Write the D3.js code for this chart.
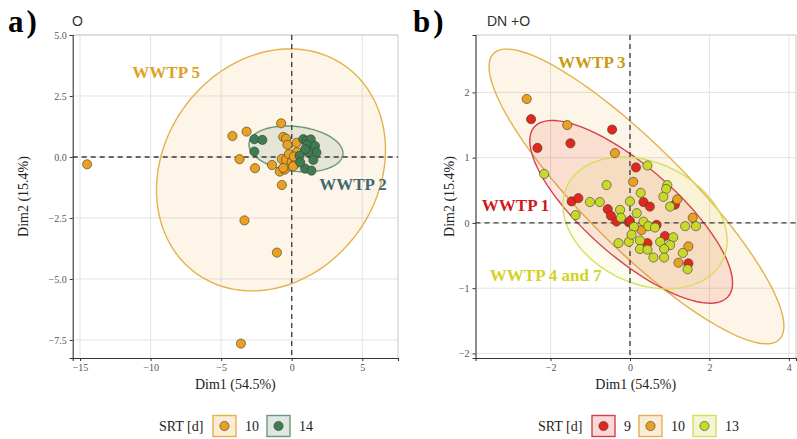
<!DOCTYPE html>
<html>
<head>
<meta charset="utf-8">
<script src="https://cdn.jsdelivr.net/npm/d3@7"></script>
<style>
  body { margin: 0; background: #fff; }
  text { font-family: "Liberation Serif", "Times New Roman", serif; }
</style>
</head>
<body>
<script>
var w = 797,
    h = 439;

// panel a) O : individuals by SRT
var aSrt10 = [
  [-14.5,-0.30],[-4.2,0.86],[-3.2,1.04],[-3.7,-0.09],[-2.6,-0.46],[-3.35,-2.6],
  [-1.05,-3.92],[-3.6,-7.65],[-1.4,-0.33],[-0.7,-1.15],[-0.85,-0.6],[-0.5,-0.52],
  [-0.75,1.38],[-0.6,0.82],[-0.4,0.75],[-0.3,0.5],[0.35,0.58],[0.35,0.2],
  [-0.7,-0.08],[-0.4,-0.12],[0.0,-0.2],[0.25,-0.28],[0.1,-0.38],[-0.6,-0.45],
  [-0.2,0.12],[0.15,0.02]
];
var aSrt14 = [
  [-2.65,0.73],[-2.08,0.7],[-2.65,0.22],[0.82,0.73],[1.06,0.67],[1.35,0.72],
  [1.1,0.49],[1.65,0.45],[1.75,0.18],[1.15,0.2],[0.95,0.32],[1.53,-0.12],
  [0.95,-0.48],[1.4,-0.56],[0.55,0.05],[0.6,-0.22]
];

// panel b) DN +O
var bSrt9 = [
  [-2.49,1.59],[-0.45,1.43],[-2.33,1.15],[-1.5,1.22],[0.15,0.85],[-1.47,0.33],
  [-1.3,0.38],[-0.56,0.21],[-0.48,0.11],[-0.03,0.01],[0.34,0.32],[0.5,0.25],
  [1.13,0.28],[0.0,0.03],[0.67,-0.03],[0.44,-0.31],[0.88,-0.2],[1.47,-0.62],
  [-0.34,0.02]
];
var bSrt10 = [
  [-2.6,1.9],[-1.58,1.5],[-0.38,1.07],[0.08,0.63],[1.19,0.36],[1.58,0.08],
  [0.29,-0.11],[1.47,-0.36],[1.22,-0.61]
];
var bSrt13 = [
  [-2.16,0.75],[-0.59,0.58],[0.44,0.88],[0.94,0.58],[0.91,0.52],[0.27,0.46],
  [0.84,0.40],[1.01,0.25],[-1.37,0.12],[-1.01,0.32],[-0.76,0.32],[-0.25,0.2],
  [-0.23,0.08],[0,0.33],[0.17,0.15],[0.10,-0.06],[0.34,0.02],[0.46,-0.05],
  [0.63,-0.07],[1.39,-0.05],[1.66,-0.05],[-0.29,-0.31],[-0.03,-0.29],[0.25,-0.27],
  [0.04,-0.18],[0.76,-0.29],[1.09,-0.22],[1.01,-0.34],[0.86,-0.40],[0.25,-0.40],
  [0.44,-0.41],[0.59,-0.53],[0.86,-0.53],[1.33,-0.46],[1.45,-0.71]
];

// confidence ellipses: centre, two conjugate half-axes (data units)
var aEllipse10 = {c: [-1.47,-0.53], u: [8.0,0], v: [1.35,4.96]};
var aEllipse14 = {c: [0.30,0.33], u: [3.27,0], v: [-0.64,0.94]};
var bEllipse10 = {c: [0.164,0.406], u: [3.60,-2.19], v: [0.907,0.552]};
var bEllipse9  = {c: [0.03,0.17], u: [2.44,-1.30], v: [0.75,0.52]};
var bEllipse13 = {c: [0.38,0.0], u: [1.96,-0.566], v: [0.655,0.837]};

var aXTicks = [-15,-10,-5,0,5],
    aYTicks = [5,2.5,0,-2.5,-5,-7.5],
    bXTicks = [-2,0,2,4],
    bYTicks = [2,1,0,-1,-2];

var srtLevelsA = ["10","14"],
    srtLevelsB = ["9","10","13"];

var pointFill = {"9":"#e2271f","10":"#eaa020","13":"#c9d92b","14":"#3e7c52"};
var lineCol   = {"9":"#d83f4b","10":"#e3b24e","13":"#d4df5c","14":"#6b987b"};
var keyFill   = {"9":"#f7d9d8","10":"#fbecd6","13":"#f3f6d6","14":"#dfe8e0"};
var ellAlpha  = {"9":0.11,"10":0.11,"13":0.08,"14":0.13};

var svg = d3.select("body").append("svg").attr("width", w).attr("height", h);

function drawPanel(cfg) {
  var x = d3.scaleLinear().domain(cfg.xDom).range([cfg.left, cfg.right]);
  var y = d3.scaleLinear().domain(cfg.yDom).range([cfg.bottom, cfg.top]);
  var g = svg.append("g");

  g.append("clipPath").attr("id", cfg.id + "clip")
    .append("rect").attr("x", cfg.left).attr("y", cfg.top)
    .attr("width", cfg.right - cfg.left).attr("height", cfg.bottom - cfg.top);

  // grid
  g.selectAll(".gx").data(cfg.xTicks).enter().append("line")
    .attr("x1", function(d) { return x(d); }).attr("x2", function(d) { return x(d); })
    .attr("y1", cfg.top).attr("y2", cfg.bottom)
    .attr("stroke", "#e2e2e2").attr("stroke-width", 1);
  g.selectAll(".gy").data(cfg.yTicks).enter().append("line")
    .attr("y1", function(d) { return y(d); }).attr("y2", function(d) { return y(d); })
    .attr("x1", cfg.left).attr("x2", cfg.right)
    .attr("stroke", "#e2e2e2").attr("stroke-width", 1);
  // light border top/right
  g.append("path")
    .attr("d", "M" + cfg.left + "," + cfg.top + "H" + cfg.right + "V" + cfg.bottom)
    .attr("fill", "none").attr("stroke", "#c8c8c8").attr("stroke-width", 1);

  // ellipses
  var ts = d3.range(0, 121).map(function(i) { return i / 120 * 2 * Math.PI; });
  var ell = g.append("g").attr("clip-path", "url(#" + cfg.id + "clip)");
  cfg.ellipses.forEach(function(e) {
    var pts = ts.map(function(t) {
      return [x(e.c[0] + e.u[0]*Math.cos(t) + e.v[0]*Math.sin(t)),
              y(e.c[1] + e.u[1]*Math.cos(t) + e.v[1]*Math.sin(t))];
    });
    ell.append("path")
      .attr("d", d3.line().curve(d3.curveLinearClosed)(pts))
      .attr("fill", pointFill[e.level]).attr("fill-opacity", ellAlpha[e.level])
      .attr("stroke", lineCol[e.level]).attr("stroke-width", 1.4);
  });

  // zero lines
  g.append("line").attr("x1", cfg.left).attr("x2", cfg.right)
    .attr("y1", y(0)).attr("y2", y(0))
    .attr("stroke", "#3a3a3a").attr("stroke-width", 1.3).attr("stroke-dasharray", "5,4");
  g.append("line").attr("y1", cfg.top).attr("y2", cfg.bottom)
    .attr("x1", x(0)).attr("x2", x(0))
    .attr("stroke", "#3a3a3a").attr("stroke-width", 1.3).attr("stroke-dasharray", "5,4");

  // points
  cfg.groups.forEach(function(gr) {
    g.append("g").selectAll("circle").data(gr.data).enter().append("circle")
      .attr("cx", function(d) { return x(d[0]); })
      .attr("cy", function(d) { return y(d[1]); })
      .attr("r", 4.6)
      .attr("fill", pointFill[gr.level])
      .attr("stroke", "#3b3b2b").attr("stroke-width", 0.6);
  });

  // group labels
  g.selectAll(".lab").data(cfg.labels).enter().append("text")
    .attr("x", function(d) { return x(d.x); })
    .attr("y", function(d) { return y(d.y); })
    .attr("dy", "0.35em")
    .attr("text-anchor", "middle")
    .attr("font-size", 17).attr("font-weight", "bold")
    .attr("fill", function(d) { return d.color; })
    .text(function(d) { return d.text; });

  // axes
  var ax = g.append("g").attr("transform", "translate(0," + cfg.bottom + ")")
    .call(d3.axisBottom(x).tickValues(cfg.xTicks).tickSize(3).tickFormat(cfg.xFmt));
  var ay = g.append("g").attr("transform", "translate(" + cfg.left + ",0)")
    .call(d3.axisLeft(y).tickValues(cfg.yTicks).tickSize(3).tickFormat(cfg.yFmt));
  [ax, ay].forEach(function(a) {
    a.select(".domain").attr("stroke", "#333").attr("stroke-width", 1.1);
    a.selectAll(".tick line").attr("stroke", "#333");
    a.selectAll(".tick text").attr("fill", "#555").attr("font-size", 10)
      .style("font-family", "'Liberation Serif', serif");
  });
  ay.selectAll(".tick text").attr("x", -6);

  // axis titles
  g.append("text").attr("x", (cfg.left + cfg.right) / 2).attr("y", cfg.bottom + 31)
    .attr("text-anchor", "middle").attr("font-size", 14).attr("fill", "#222")
    .text("Dim1 (54.5%)");
  g.append("text")
    .attr("transform", "translate(" + cfg.yTitleX + "," + ((cfg.top + cfg.bottom) / 2) + ") rotate(-90)")
    .attr("text-anchor", "middle").attr("font-size", 14).attr("fill", "#222")
    .text("Dim2 (15.4%)");

  // panel tag and title
  g.append("text").attr("x", cfg.tagX).attr("y", 32)
    .attr("font-size", 31).attr("font-weight", "bold").attr("letter-spacing", 3)
    .attr("fill", "#000").text(cfg.tag);
  g.append("text").attr("x", cfg.titleX).attr("y", 26)
    .attr("font-size", 14).attr("fill", "#333")
    .style("font-family", "'Liberation Sans', sans-serif")
    .text(cfg.title);

  // legend
  var lg = g.append("g").attr("transform", "translate(" + cfg.legendX + ",426)");
  lg.append("text").attr("x", 0).attr("y", 0).attr("dy", "0.35em")
    .attr("font-size", 14).attr("fill", "#222").text("SRT [d]");
  var cx = 54;
  cfg.levels.forEach(function(l) {
    lg.append("rect").attr("x", cx).attr("y", -10.5).attr("width", 23).attr("height", 21)
      .attr("fill", keyFill[l]).attr("stroke", lineCol[l]).attr("stroke-width", 1.4);
    lg.append("circle").attr("cx", cx + 11.5).attr("cy", 0).attr("r", 4.6)
      .attr("fill", pointFill[l]).attr("stroke", "#3b3b2b").attr("stroke-width", 0.6);
    lg.append("text").attr("x", cx + 32).attr("y", 0).attr("dy", "0.35em")
      .attr("font-size", 14).attr("fill", "#222").text(l);
    cx += 32 + l.length * 7 + 8;
  });
}

drawPanel({
  id: "a", tag: "a)", tagX: 8, title: "O", titleX: 72,
  left: 72.7, right: 398, top: 35, bottom: 358,
  xDom: [-15.52, 7.53], yDom: [-8.24, 5.0],
  xTicks: aXTicks, yTicks: aYTicks,
  xFmt: d3.format("d"), yFmt: d3.format(".1f"),
  yTitleX: 28,
  ellipses: [
    Object.assign({level: "10"}, aEllipse10),
    Object.assign({level: "14"}, aEllipse14)
  ],
  groups: [{level: "10", data: aSrt10}, {level: "14", data: aSrt14}],
  labels: [
    {text: "WWTP 5", x: -8.9, y: 3.48, color: "#e0a11f"},
    {text: "WWTP 2", x: 4.34, y: -1.11, color: "#3f6673"}
  ],
  legendX: 159, levels: srtLevelsA
});

drawPanel({
  id: "b", tag: "b)", tagX: 413, title: "DN +O", titleX: 487,
  left: 475.5, right: 796, top: 35, bottom: 358,
  xDom: [-3.89, 4.18], yDom: [-2.07, 2.88],
  xTicks: bXTicks, yTicks: bYTicks,
  xFmt: d3.format("d"), yFmt: d3.format("d"),
  yTitleX: 454,
  ellipses: [
    Object.assign({level: "10"}, bEllipse10),
    Object.assign({level: "9"}, bEllipse9),
    Object.assign({level: "13"}, bEllipse13)
  ],
  groups: [{level: "9", data: bSrt9}, {level: "10", data: bSrt10}, {level: "13", data: bSrt13}],
  labels: [
    {text: "WWTP 3", x: -0.96, y: 2.47, color: "#c99a12"},
    {text: "WWTP 1", x: -2.88, y: 0.28, color: "#d0181a"},
    {text: "WWTP 4 and 7", x: -2.12, y: -0.80, color: "#d2d224"}
  ],
  legendX: 538, levels: srtLevelsB
});
</script>
</body>
</html>
